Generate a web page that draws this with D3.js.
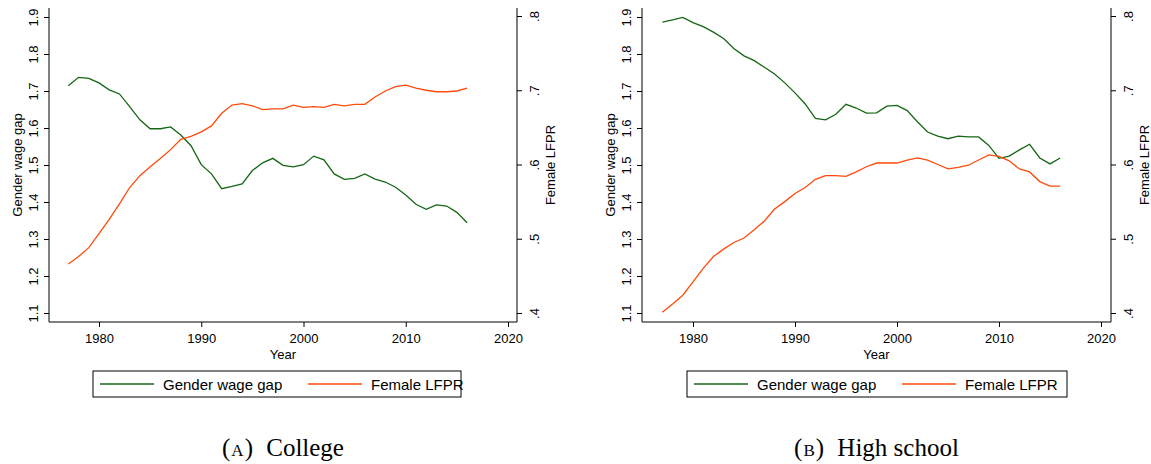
<!DOCTYPE html>
<html>
<head>
<meta charset="utf-8">
<script src="https://cdn.jsdelivr.net/npm/d3@7/dist/d3.min.js"></script>
<style>
  body { margin: 0; background: #fff; }
  svg text { font-family: "Liberation Sans", Arial, sans-serif; fill: #000; }
  .caption { font-family: "Liberation Serif", "DejaVu Serif", serif; }
</style>
</head>
<body>
<svg id="chart" width="1151" height="464"></svg>
<script>
// data
const years = [1977, 1978, 1979, 1980, 1981, 1982, 1983, 1984, 1985, 1986,
  1987, 1988, 1989, 1990, 1991, 1992, 1993, 1994, 1995, 1996,
  1997, 1998, 1999, 2000, 2001, 2002, 2003, 2004, 2005, 2006,
  2007, 2008, 2009, 2010, 2011, 2012, 2013, 2014, 2015, 2016];

const collegeGap = [1.714, 1.737, 1.734, 1.722, 1.703, 1.692, 1.658, 1.622, 1.598, 1.598,
  1.603, 1.581, 1.552, 1.501, 1.476, 1.436, 1.442, 1.449, 1.485, 1.506,
  1.518, 1.499, 1.495, 1.501, 1.524, 1.514, 1.476, 1.461, 1.464, 1.476,
  1.462, 1.454, 1.440, 1.419, 1.394, 1.380, 1.392, 1.389, 1.372, 1.344];

const collegeLfpr = [0.466, 0.476, 0.488, 0.507, 0.526, 0.547, 0.569, 0.585, 0.597, 0.608,
  0.620, 0.634, 0.638, 0.644, 0.652, 0.669, 0.680, 0.682, 0.679, 0.674,
  0.675, 0.675, 0.680, 0.677, 0.678, 0.677, 0.681, 0.679, 0.681, 0.681,
  0.691, 0.699, 0.705, 0.707, 0.703, 0.700, 0.698, 0.698, 0.699, 0.703];

const hsGap = [1.886, 1.892, 1.899, 1.885, 1.874, 1.859, 1.842, 1.815, 1.795, 1.782,
  1.764, 1.746, 1.722, 1.695, 1.665, 1.626, 1.622, 1.637, 1.664, 1.654,
  1.640, 1.641, 1.659, 1.661, 1.647, 1.617, 1.589, 1.578, 1.571, 1.578,
  1.576, 1.576, 1.553, 1.518, 1.524, 1.541, 1.556, 1.519, 1.503, 1.519];

const hsLfpr = [0.401, 0.412, 0.424, 0.442, 0.460, 0.476, 0.486, 0.495, 0.501, 0.512,
  0.524, 0.540, 0.550, 0.561, 0.569, 0.580, 0.585, 0.585, 0.584, 0.590,
  0.597, 0.602, 0.602, 0.602, 0.606, 0.609, 0.606, 0.600, 0.594, 0.596,
  0.599, 0.606, 0.613, 0.611, 0.605, 0.594, 0.590, 0.577, 0.571, 0.571];

const yearTicks = [1980, 1990, 2000, 2010, 2020];
const gapTicks = [1.1, 1.2, 1.3, 1.4, 1.5, 1.6, 1.7, 1.8, 1.9];
const lfprTicks = [0.4, 0.5, 0.6, 0.7, 0.8];
const lfprLabels = ['.4', '.5', '.6', '.7', '.8'];
const seriesNames = ['Gender wage gap', 'Female LFPR'];

const green = '#146614';
const orange = '#ff4a0a';

const svg = d3.select('#chart');

function drawPanel(p) {
  const x = d3.scaleLinear().domain([1980, 2020]).range([p.x1980, p.x2020]);
  const yL = d3.scaleLinear().domain([1.1, 1.9]).range([313, 17]);
  const yR = d3.scaleLinear().domain([0.4, 0.8]).range([313, 16]);
  const top = 8, bottom = 322;

  // y axis left
  const gl = svg.append('g').attr('transform', `translate(${p.left},0)`);
  gl.call(d3.axisLeft(yL).tickValues(gapTicks).tickSize(5).tickFormat(d3.format('.1f')));
  gl.select('.domain').attr('d', `M0,${top}V${bottom}`);
  gl.selectAll('.tick text')
    .attr('transform', 'rotate(-90)')
    .attr('x', 0).attr('y', -11.5).attr('dy', 0)
    .attr('text-anchor', 'middle')
    .style('font-size', '13px');
  gl.append('text')
    .attr('transform', `translate(-27,${(top + bottom) / 2}) rotate(-90)`)
    .attr('text-anchor', 'middle')
    .style('font-size', '13px')
    .text('Gender wage gap');

  // y axis right
  const gr = svg.append('g').attr('transform', `translate(${p.right},0)`);
  gr.call(d3.axisRight(yR).tickValues(lfprTicks).tickSize(5).tickFormat((d, i) => lfprLabels[i]));
  gr.select('.domain').attr('d', `M0,${top}V${bottom}`);
  gr.selectAll('.tick text')
    .attr('transform', 'rotate(-90)')
    .attr('x', 0).attr('y', 21.5).attr('dy', 0)
    .attr('text-anchor', 'middle')
    .style('font-size', '13px');
  gr.append('text')
    .attr('transform', `translate(38,${(top + bottom) / 2}) rotate(-90)`)
    .attr('text-anchor', 'middle')
    .style('font-size', '13px')
    .text('Female LFPR');

  // x axis
  const gx = svg.append('g').attr('transform', `translate(0,${bottom})`);
  gx.call(d3.axisBottom(x).tickValues(yearTicks).tickSize(5).tickFormat(d3.format('d')));
  gx.select('.domain').attr('d', `M${p.left},0H${p.right}`);
  gx.selectAll('.tick text').attr('y', 21).attr('dy', 0).style('font-size', '13px');
  gx.append('text')
    .attr('x', (p.left + p.right) / 2).attr('y', 37)
    .attr('text-anchor', 'middle')
    .style('font-size', '13px')
    .text('Year');

  svg.selectAll('.domain, .tick line').attr('stroke', '#000').attr('stroke-width', 1);

  // lines
  const gapLine = d3.line().x((d, i) => x(years[i])).y(d => yL(d));
  const lfprLine = d3.line().x((d, i) => x(years[i])).y(d => yR(d));
  svg.append('path').datum(p.gap)
    .attr('d', gapLine).attr('fill', 'none')
    .attr('stroke', green).attr('stroke-width', 1.3);
  svg.append('path').datum(p.lfpr)
    .attr('d', lfprLine).attr('fill', 'none')
    .attr('stroke', orange).attr('stroke-width', 1.3);

  // legend
  const lg = svg.append('g').attr('transform', `translate(${p.legX},371)`);
  lg.append('rect').attr('width', p.legW).attr('height', 26)
    .attr('fill', '#fff').attr('stroke', '#000').attr('stroke-width', 1);
  const colors = [green, orange];
  const offs = [0, p.legStep];
  seriesNames.forEach((name, i) => {
    lg.append('line')
      .attr('x1', 7 + offs[i]).attr('x2', 61 + offs[i])
      .attr('y1', 13).attr('y2', 13)
      .attr('stroke', colors[i]).attr('stroke-width', 1.3);
    lg.append('text')
      .attr('x', 70 + offs[i]).attr('y', 18.5)
      .style('font-size', '15px')
      .text(name);
  });

  // caption: "(X)" in small caps, then the title
  const cap = svg.append('text').attr('class', 'caption')
    .attr('x', (p.left + p.right) / 2).attr('y', 456)
    .attr('text-anchor', 'middle')
    .style('font-size', '25px');
  cap.append('tspan').text('(');
  cap.append('tspan').style('font-size', '17px').attr('dx', 1).text(p.letter);
  cap.append('tspan').attr('dx', 1).text(')');
  cap.append('tspan').attr('dx', 7).text(' ' + p.title);
}

drawPanel({ left: 49, right: 517, x1980: 99, x2020: 508, gap: collegeGap, lfpr: collegeLfpr,
  legX: 93, legW: 368, legStep: 208, letter: 'A', title: 'College' });
drawPanel({ left: 642, right: 1111, x1980: 693, x2020: 1101, gap: hsGap, lfpr: hsLfpr,
  legX: 687, legW: 380, legStep: 208, letter: 'B', title: 'High school' });
</script>
</body>
</html>
